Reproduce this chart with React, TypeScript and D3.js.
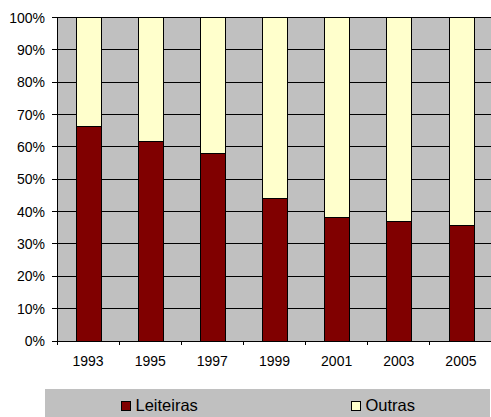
import React from 'react';
import * as d3 from 'd3';

const years = ['1993', '1995', '1997', '1999', '2001', '2003', '2005'];
const leiteiras = [0.662, 0.618, 0.581, 0.439, 0.382, 0.37, 0.358];
const outras = leiteiras.map(v => 1 - v);
const yTicks = [0, 0.1, 0.2, 0.3, 0.4, 0.5, 0.6, 0.7, 0.8, 0.9, 1];
const seriesNames = ['Leiteiras', 'Outras'];
const seriesColors = ['#800000', '#FFFFCC'];

const width = 491;
const height = 417;
const plot = { left: 57, right: 492, top: 17.5, bottom: 341 };

const App: React.FC = () => {
  const x = d3.scaleBand<string>().domain(years).range([plot.left, plot.right]).padding(0);
  const y = d3.scaleLinear().domain([0, 1]).range([plot.bottom, plot.top]);
  const crisp = (v: number) => Math.floor(v) + 0.5;
  const barW = x.bandwidth() * 0.4;
  const barX = (d: string) => Math.round((x(d) || 0) + x.bandwidth() * 0.3) + 0.5;
  const font = 'Liberation Sans, Arial, sans-serif';

  const stacked = years.map((yr, i) => ({ yr, parts: [leiteiras[i], outras[i]] }));

  return (
    <svg width={width} height={height} style={{ position: 'absolute', left: 0, top: 0 }} fontFamily={font}>
      {/* plot area */}
      <rect x={plot.left} y={plot.top} width={plot.right - plot.left} height={plot.bottom - plot.top} fill="#C0C0C0" />
      {yTicks.map(t => (
        <g key={t}>
          <line x1={plot.left - 5} x2={plot.right} y1={crisp(y(t))} y2={crisp(y(t))} stroke="#000" strokeWidth={1} />
          <text x={45} y={y(t) + 5} textAnchor="end" fontSize={14} fill="#000">
            {`${Math.round(t * 100)}%`}
          </text>
        </g>
      ))}
      {/* bars */}
      {stacked.map(s => {
        let acc = 0;
        return (
          <g key={s.yr}>
            {s.parts.map((v, k) => {
              const y0 = y(acc);
              const y1 = y(acc + v);
              acc += v;
              return (
                <rect key={k} x={barX(s.yr)} y={crisp(y1)} width={Math.round(barW)} height={crisp(y0) - crisp(y1)}
                  fill={seriesColors[k]} stroke="#000" strokeWidth={1} />
              );
            })}
          </g>
        );
      })}
      {/* axes */}
      <line x1={crisp(plot.left)} x2={crisp(plot.left)} y1={plot.top} y2={plot.bottom} stroke="#000" />
      <line x1={plot.left} x2={plot.right} y1={crisp(plot.bottom)} y2={crisp(plot.bottom)} stroke="#000" />
      {years.map(yr => (
        <g key={yr}>
          <line x1={crisp(x(yr) || 0)} x2={crisp(x(yr) || 0)} y1={plot.bottom} y2={plot.bottom + 4} stroke="#000" />
          <text x={(x(yr) || 0) + x.bandwidth() / 2} y={366} textAnchor="middle" fontSize={14} fill="#000">
            {yr}
          </text>
        </g>
      ))}
      {/* legend */}
      <rect x={45} y={389} width={445} height={28} fill="#C0C0C0" />
      {seriesNames.map((name, i) => {
        const lx = i === 0 ? 121.5 : 351.5;
        return (
          <g key={name}>
            <rect x={lx} y={401.5} width={9} height={9} fill={seriesColors[i]} stroke="#000" />
            <text x={lx + 14} y={411} fontSize={16.5} fill="#000">{name}</text>
          </g>
        );
      })}
    </svg>
  );
};

export default App;
